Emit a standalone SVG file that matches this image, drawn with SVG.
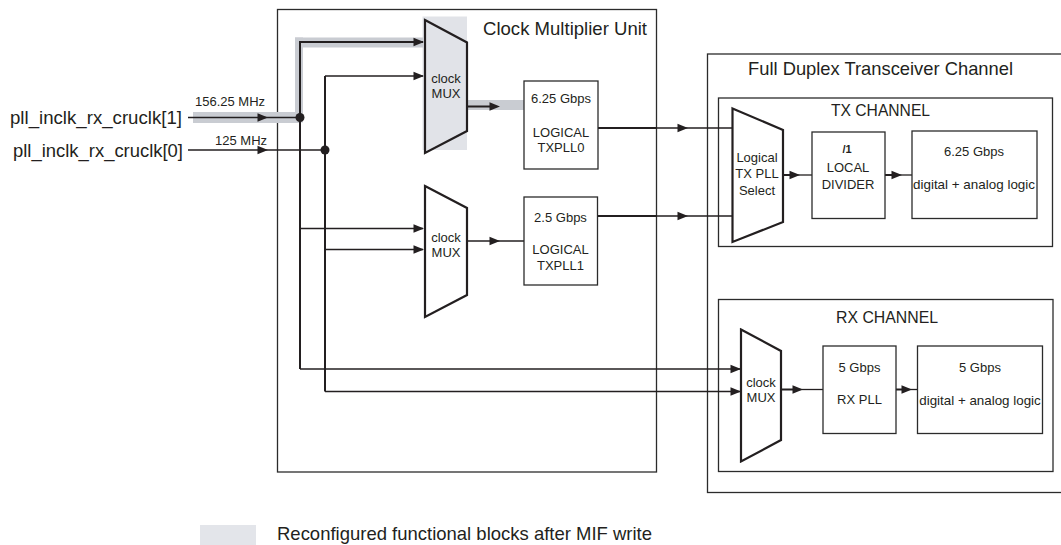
<svg xmlns="http://www.w3.org/2000/svg" xmlns:xlink="http://www.w3.org/1999/xlink" width="1061" height="545" viewBox="0 0 1061 545">
<style>
.box{fill:none;stroke:#2b2b2b;stroke-width:1.3}
.mux{fill:#ffffff;stroke:#231f20;stroke-width:2.2;stroke-linejoin:miter}
.muxhl{fill:#e1e3e8;stroke:#231f20;stroke-width:2.2}
.hl{fill:#e1e3e8}
.band{fill:#c9ccd2}
.thin{fill:none;stroke:#231f20;stroke-width:1.3}
.thick{fill:none;stroke:#231f20;stroke-width:2}
.t{font-family:"Liberation Sans",Arial,sans-serif;fill:#231f20}
.big{font-size:18.6px}
.sm{font-size:13px}
.mid{text-anchor:middle}
</style>
<defs>
<path id="ah" d="M0,0 L-10.5,-4.2 L-10.5,4.2 Z" fill="#231f20"/>
</defs>

<g id="cmu">
<rect class="box" x="277.5" y="9.5" width="379" height="462.5"/>
<text class="t big" x="483" y="35" textLength="164" lengthAdjust="spacingAndGlyphs">Clock Multiplier Unit</text>
</g>

<g id="fdx">
<rect class="box" x="707.5" y="54" width="360" height="438.5"/>
<text class="t big" x="748" y="75" textLength="265" lengthAdjust="spacingAndGlyphs">Full Duplex Transceiver Channel</text>
</g>

<g id="txch">
<rect class="box" x="718.5" y="98" width="334" height="148.5"/>
<text class="t" x="831" y="116" font-size="15.6" textLength="99" lengthAdjust="spacingAndGlyphs">TX CHANNEL</text>
</g>

<g id="rxch">
<rect class="box" x="718.5" y="299.5" width="334.5" height="172"/>
<text class="t" x="836" y="323" font-size="15.8" textLength="102" lengthAdjust="spacingAndGlyphs">RX CHANNEL</text>
</g>

<g id="highlight">
<rect class="hl" x="422.5" y="16.5" width="44.5" height="133.5"/>
<rect class="band" x="193" y="112" width="107" height="11"/>
<rect class="band" x="295" y="37.5" width="8" height="85"/>
<rect class="band" x="295" y="37.5" width="128" height="10"/>
<rect class="band" x="468" y="100" width="56" height="10"/>
</g>

<g id="inputs">
<text class="t big" x="182" y="124" text-anchor="end" textLength="172" lengthAdjust="spacingAndGlyphs">pll_inclk_rx_cruclk[1]</text>
<text class="t big" x="183" y="157" text-anchor="end" textLength="170" lengthAdjust="spacingAndGlyphs">pll_inclk_rx_cruclk[0]</text>
<text class="t sm" x="195" y="106">156.25 MHz</text>
<text class="t sm" x="215" y="145">125 MHz</text>
</g>

<g id="connectors">
<line class="thin" x1="188" y1="117.5" x2="300" y2="117.5"/>
<line class="thin" x1="188" y1="150" x2="325" y2="150"/>
<use xlink:href="#ah" x="268" y="117.5"/>
<use xlink:href="#ah" x="268" y="150"/>
<polyline class="thick" points="300,369 300,42 423,42"/>
<use xlink:href="#ah" x="424" y="42"/>
<polyline class="thick" points="325,391.5 325,76"/>
<line class="thin" x1="325" y1="76" x2="423" y2="76"/>
<use xlink:href="#ah" x="424" y="76"/>
<line class="thin" x1="300" y1="228.5" x2="423" y2="228.5"/>
<use xlink:href="#ah" x="424" y="228.5"/>
<line class="thin" x1="325" y1="249.5" x2="423" y2="249.5"/>
<use xlink:href="#ah" x="424" y="249.5"/>
<line class="thin" x1="300" y1="369" x2="740" y2="369"/>
<use xlink:href="#ah" x="741" y="369"/>
<line class="thin" x1="325" y1="391.5" x2="740" y2="391.5"/>
<use xlink:href="#ah" x="741" y="391.5"/>
<circle cx="300" cy="117.5" r="4.5" fill="#231f20"/>
<circle cx="325" cy="150" r="4.5" fill="#231f20"/>
<line class="thick" x1="468" y1="106.5" x2="495" y2="106.5"/>
<use xlink:href="#ah" x="500" y="106.5"/>
<line class="thin" x1="467" y1="241" x2="524" y2="241"/>
<use xlink:href="#ah" x="500" y="241"/>
<line class="thick" x1="598" y1="128" x2="657" y2="128"/>
<line class="thin" x1="657" y1="128" x2="732" y2="128"/>
<use xlink:href="#ah" x="688" y="128"/>
<line class="thick" x1="598" y1="216" x2="657" y2="216"/>
<line class="thin" x1="657" y1="216" x2="732" y2="216"/>
<use xlink:href="#ah" x="688" y="216"/>
<line class="thick" x1="783" y1="175" x2="792" y2="175"/>
<line class="thin" x1="792" y1="175" x2="812" y2="175"/>
<use xlink:href="#ah" x="800" y="175"/>
<line class="thick" x1="885" y1="175" x2="894" y2="175"/>
<line class="thin" x1="894" y1="175" x2="912" y2="175"/>
<use xlink:href="#ah" x="902" y="175"/>
<line class="thick" x1="781" y1="389.5" x2="795" y2="389.5"/>
<line class="thin" x1="795" y1="389.5" x2="823" y2="389.5"/>
<use xlink:href="#ah" x="803" y="389.5"/>
<line class="thick" x1="896" y1="389.5" x2="904" y2="389.5"/>
<line class="thin" x1="904" y1="389.5" x2="917" y2="389.5"/>
<use xlink:href="#ah" x="912" y="389.5"/>
</g>

<g id="cmu-mux0">
<polygon class="muxhl" points="425,20 467,42.5 467,131 425,153"/>
<text class="t sm mid" x="446" y="83">clock</text>
<text class="t sm mid" x="446" y="97.5">MUX</text>
</g>

<g id="cmu-mux1">
<polygon class="mux" points="425,186 467,208 467,295 425,317"/>
<text class="t sm mid" x="446" y="241.5">clock</text>
<text class="t sm mid" x="446" y="257">MUX</text>
</g>

<g id="txpll0">
<rect class="box" x="524" y="81" width="74" height="88" fill="#fff"/>
<text class="t sm mid" x="561" y="103">6.25 Gbps</text>
<text class="t sm mid" x="561" y="137">LOGICAL</text>
<text class="t sm mid" x="561" y="152">TXPLL0</text>
</g>

<g id="txpll1">
<rect class="box" x="524" y="197" width="73.5" height="88" fill="#fff"/>
<text class="t sm mid" x="560.5" y="222">2.5 Gbps</text>
<text class="t sm mid" x="560.5" y="254">LOGICAL</text>
<text class="t sm mid" x="560.5" y="269.5">TXPLL1</text>
</g>

<g id="tx-pll-select">
<polygon class="mux" points="732.5,108.5 783,130 783,222 732.5,242"/>
<text class="t sm mid" x="757" y="162">Logical</text>
<text class="t sm mid" x="757" y="178">TX PLL</text>
<text class="t sm mid" x="757" y="194.5">Select</text>
</g>

<g id="local-divider">
<rect class="box" x="812" y="132" width="73" height="86.5"/>
<text class="t mid" x="847" y="152.5" font-size="11" font-weight="bold">/1</text>
<text class="t sm mid" x="848" y="171.5">LOCAL</text>
<text class="t sm mid" x="848" y="188.5">DIVIDER</text>
</g>

<g id="tx-logic">
<rect class="box" x="912" y="131" width="125" height="87.5"/>
<text class="t sm mid" x="974" y="156">6.25 Gbps</text>
<text class="t sm mid" x="974" y="189" textLength="122" lengthAdjust="spacingAndGlyphs">digital + analog logic</text>
</g>

<g id="rx-mux">
<polygon class="mux" points="741,329.5 781,351 781,440 741,461.5"/>
<text class="t sm mid" x="761" y="386.5">clock</text>
<text class="t sm mid" x="761" y="401.5">MUX</text>
</g>

<g id="rx-pll">
<rect class="box" x="823" y="346" width="73" height="87.5"/>
<text class="t sm mid" x="859.5" y="372">5 Gbps</text>
<text class="t sm mid" x="859.5" y="404">RX PLL</text>
</g>

<g id="rx-logic">
<rect class="box" x="917.5" y="346" width="125" height="87.5"/>
<text class="t sm mid" x="980" y="372">5 Gbps</text>
<text class="t sm mid" x="980" y="405" textLength="121.5" lengthAdjust="spacingAndGlyphs">digital + analog logic</text>
</g>

<g id="legend">
<rect x="200" y="525" width="56" height="20" fill="#e3e5ea"/>
<text class="t big" x="277" y="540" textLength="375" lengthAdjust="spacingAndGlyphs">Reconfigured functional blocks after MIF write</text>
</g>
</svg>
